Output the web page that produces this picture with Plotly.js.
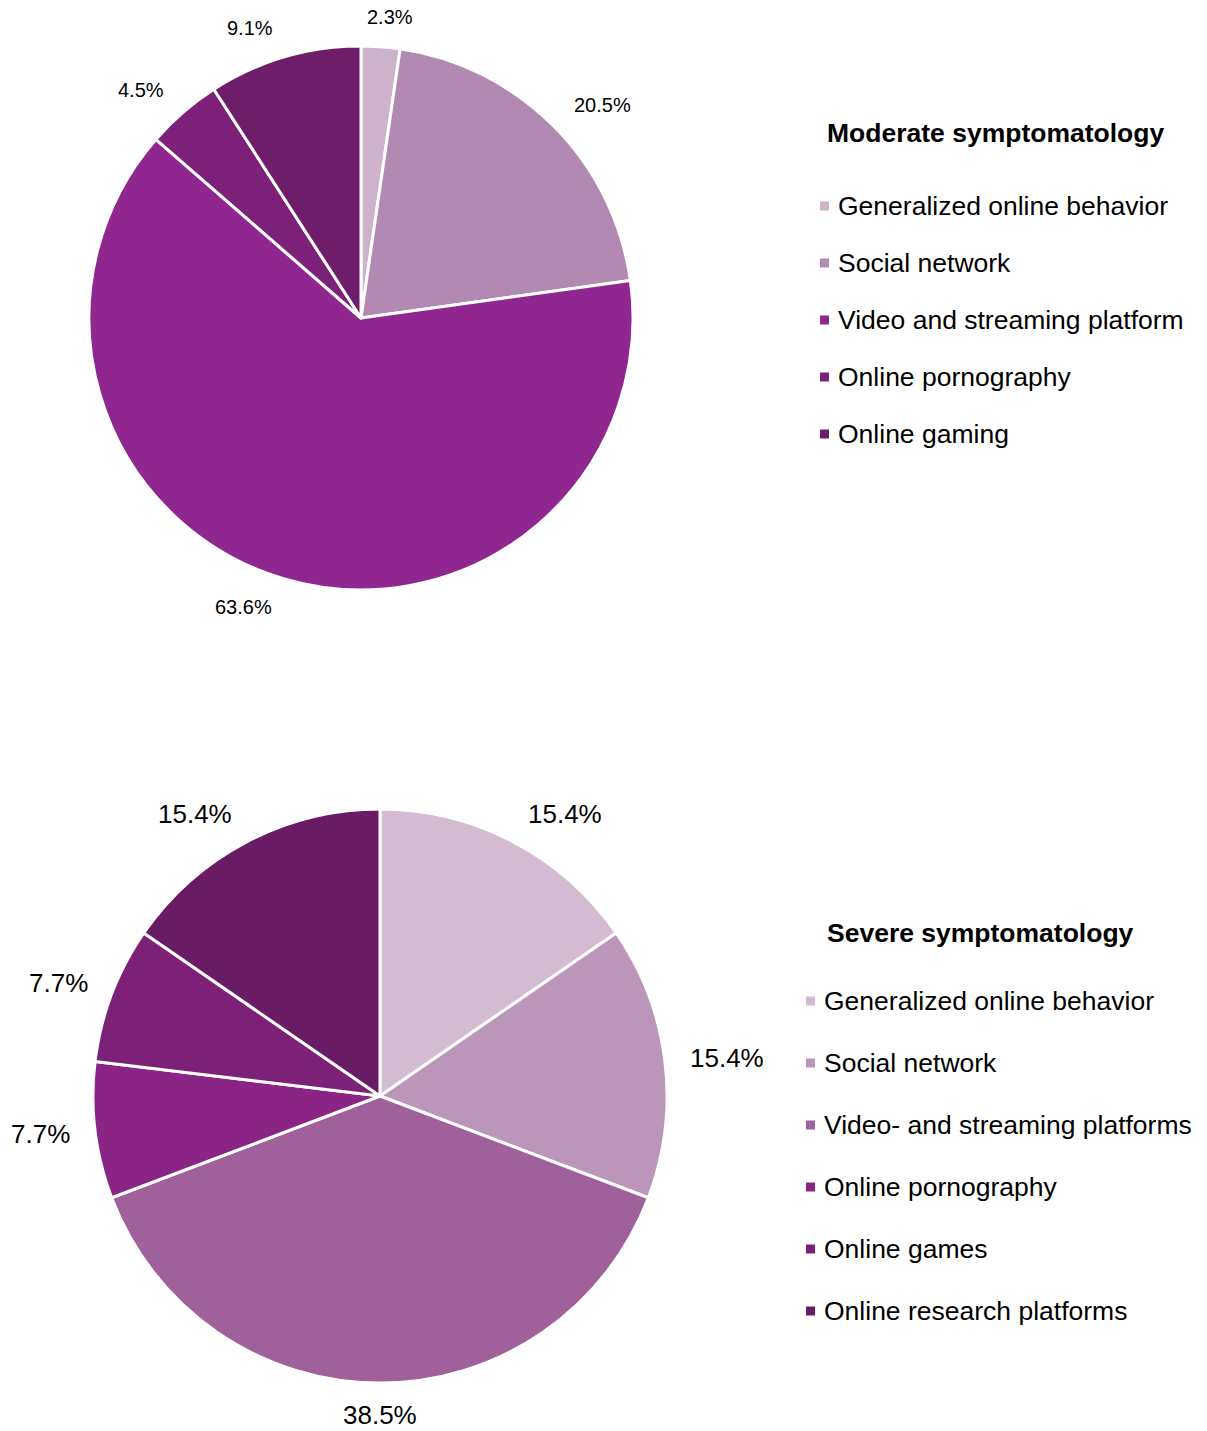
<!DOCTYPE html>
<html>
<head>
<meta charset="utf-8">
<script src="https://cdn.plot.ly/plotly-3.0.1.min.js"></script>
<style>
  html, body { margin: 0; padding: 0; background: #ffffff; }
  #chart { width: 1207px; height: 1431px; }
</style>
</head>
<body>
<div id="chart"></div>
<script>
// ---- Data ----
const moderateTitle = "Moderate symptomatology";
const moderateLabels = ["Generalized online behavior", "Social network", "Video and streaming platform", "Online pornography", "Online gaming"];
const moderateValues = [2.3, 20.5, 63.6, 4.5, 9.1];
const moderateColors = ["#ccb3cb", "#b289b1", "#902690", "#7d2079", "#6d1d69"];

const severeTitle = "Severe symptomatology";
const severeLabels = ["Generalized online behavior", "Social network", "Video- and streaming platforms", "Online pornography", "Online games", "Online research platforms"];
const severeValues = [15.4, 15.4, 38.5, 7.7, 7.7, 15.4];
const severeColors = ["#d3bbd1", "#bb96b9", "#a0609c", "#8a2586", "#7c2078", "#6a1b66"];

// ---- Layout helpers ----
const W = 1207, H = 1431;
const FONT = "Liberation Sans, Arial, sans-serif";
const px = x => x / W;
const py = y => 1 - y / H;

// Pie geometry (pixels): centre and radius; the domain is built from these
const pieTop = { cx: 361, cy: 318, r: 272, font: 20, gap: 20 };
const pieBot = { cx: 380, cy: 1096, r: 287, font: 26, gap: 19 };

function domainOf(p) {
  return { x: [px(p.cx - p.r), px(p.cx + p.r)], y: [py(p.cy + p.r), py(p.cy - p.r)] };
}

function pieTrace(values, labels, colors, p) {
  return {
    type: "pie",
    values: values,
    labels: labels,
    sort: false,
    direction: "clockwise",
    rotation: 0,
    marker: { colors: colors, line: { color: "#ffffff", width: 3 } },
    textposition: "none",
    showlegend: false,
    hoverinfo: "label+value",
    domain: domainOf(p)
  };
}

const traces = [
  pieTrace(moderateValues, moderateLabels, moderateColors, pieTop),
  pieTrace(severeValues, severeLabels, severeColors, pieBot)
];

const annotations = [];
const shapes = [];

// Outside data labels, placed from each slice's mid-angle (best-fit style)
const canvas = document.createElement("canvas");
const ctx = canvas.getContext("2d");
function textWidth(t, size) {
  ctx.font = size + 'px "Liberation Sans", Arial, sans-serif';
  return ctx.measureText(t).width;
}
function addPieLabels(values, p) {
  const total = values.reduce((a, b) => a + b, 0);
  let cum = 0;
  values.forEach(v => {
    const th = 2 * Math.PI * (cum + v / 2) / total;
    cum += v;
    const txt = v.toFixed(1) + "%";
    const w = textWidth(txt, p.font);
    const h = p.font;
    const s = Math.sin(th), c = Math.cos(th);
    const R = p.r + p.gap;
    const ramp = Math.min(1, Math.abs(s) * 4);
    const x = p.cx + R * s + Math.sign(s) * ramp * (w / 2 + 6);
    const y = p.cy - R * c - c * h / 2;
    annotations.push({
      xref: "paper", yref: "paper",
      x: px(x), y: py(y),
      xanchor: "center", yanchor: "middle", showarrow: false,
      borderpad: 0,
      text: txt,
      font: { family: FONT, size: p.font, color: "#000000" }
    });
  });
}
addPieLabels(moderateValues, pieTop);
addPieLabels(severeValues, pieBot);

const LEG_FONT = 26.5;
function addLegend(title, labels, colors, titleX, titleY, boxX, textX, firstY, step) {
  annotations.push({
    xref: "paper", yref: "paper", x: px(titleX), y: py(titleY),
    xanchor: "left", yanchor: "middle", showarrow: false,
    text: "<b>" + title + "</b>",
    font: { family: FONT, size: LEG_FONT, color: "#000000" }
  });
  labels.forEach((lab, i) => {
    const cy = firstY + i * step;
    annotations.push({
      xref: "paper", yref: "paper", x: px(textX), y: py(cy),
      xanchor: "left", yanchor: "middle", showarrow: false,
      text: lab,
      font: { family: FONT, size: LEG_FONT, color: "#000000" }
    });
    shapes.push({
      type: "rect", xref: "paper", yref: "paper",
      x0: px(boxX), x1: px(boxX + 9), y0: py(cy + 4.5), y1: py(cy - 4.5),
      fillcolor: colors[i], line: { width: 0 }
    });
  });
}

addLegend(moderateTitle, moderateLabels, moderateColors, 825, 133, 820, 836, 206, 57);
addLegend(severeTitle, severeLabels, severeColors, 825, 933, 806, 822, 1001, 62);

const layout = {
  width: W, height: H,
  margin: { l: 0, r: 0, t: 0, b: 0 },
  paper_bgcolor: "#ffffff",
  plot_bgcolor: "#ffffff",
  font: { family: FONT, color: "#000000" },
  showlegend: false,
  annotations: annotations,
  shapes: shapes
};

Plotly.newPlot("chart", traces, layout, { displayModeBar: false, staticPlot: true });
</script>
</body>
</html>
